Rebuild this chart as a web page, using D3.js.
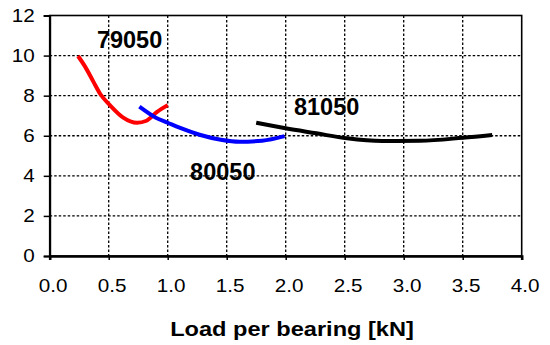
<!DOCTYPE html>
<html>
<head>
<meta charset="utf-8">
<script src="https://cdn.jsdelivr.net/npm/d3@7"></script>
<style>
  body { margin: 0; background: #fff; }
  svg { display: block; font-family: "Liberation Sans", Arial, sans-serif; }
</style>
</head>
<body>
<svg id="chart" width="550" height="345"></svg>
<script>
// bearing series
const names = ['79050', '80050', '81050'];
const colors = ['#ff0000', '#0000ff', '#000000'];

const load79050 = [0.24, 0.30, 0.37, 0.43, 0.51, 0.62, 0.74, 0.82, 0.91, 1.0];
const val79050  = [9.98, 9.45, 8.70, 8.07, 7.53, 6.92, 6.65, 6.75, 7.19, 7.53];

const load80050 = [0.76, 0.90, 1.0, 1.1, 1.27, 1.45, 1.61, 1.8, 1.99];
const val80050  = [7.45, 6.90, 6.65, 6.4, 6.05, 5.80, 5.70, 5.75, 5.98];

const load81050 = [1.75, 2.0, 2.26, 2.52, 2.82, 3.14, 3.5, 3.75];
const val81050  = [6.65, 6.37, 6.12, 5.87, 5.74, 5.75, 5.9, 6.04];

// where each series name sits, in data units
const labelX = [0.4, 1.19, 2.07];
const labelY = [10.4, 3.8, 7.05];

const xTicks = [0, 0.5, 1, 1.5, 2, 2.5, 3, 3.5, 4];
const yTicks = [0, 2, 4, 6, 8, 10, 12];
const xTitle = 'Load per bearing [kN]';

const margin = { left: 49.7, top: 15.5, right: 28.3, bottom: 89 };
const svg = d3.select('#chart');
const width = 550 - margin.left - margin.right;
const height = 345 - margin.top - margin.bottom;

const x = d3.scaleLinear().domain([0, 4]).range([0, width]);
const y = d3.scaleLinear().domain([0, 12]).range([height, 0]);

const g = svg.append('g').attr('transform', 'translate(' + [margin.left, margin.top] + ')');

// dotted grid
g.append('g').selectAll('line.gx')
  .data(xTicks.slice(1, -1))
  .enter().append('line')
  .attr('x1', d => x(d)).attr('x2', d => x(d))
  .attr('y1', 0).attr('y2', height)
  .attr('stroke', '#000').attr('stroke-width', 1.3).attr('stroke-dasharray', '2.5,2');
g.append('g').selectAll('line.gy')
  .data(yTicks.slice(1, -1))
  .enter().append('line')
  .attr('x1', 0).attr('x2', width)
  .attr('y1', d => y(d)).attr('y2', d => y(d))
  .attr('stroke', '#000').attr('stroke-width', 1.3).attr('stroke-dasharray', '2.5,2');

// plot frame
g.append('rect')
  .attr('x', 0).attr('y', 0).attr('width', width).attr('height', height)
  .attr('fill', 'none').attr('stroke', '#000').attr('stroke-width', 1.6);

// axes
const xAxis = g.append('g')
  .attr('transform', 'translate(0,' + height + ')')
  .call(d3.axisBottom(x).tickValues(xTicks).tickFormat(d3.format('.1f')).tickSize(4).tickPadding(20));
const yAxis = g.append('g')
  .call(d3.axisLeft(y).tickValues(yTicks).tickSize(6).tickPadding(8));

[xAxis, yAxis].forEach(ax => {
  ax.select('.domain').attr('stroke', '#000').attr('stroke-width', 2);
  ax.selectAll('.tick line').attr('stroke', '#000').attr('stroke-width', 1.5);
  ax.selectAll('.tick text')
    .attr('font-size', 17.5)
    .attr('font-family', '"Liberation Sans", Arial, sans-serif')
    .attr('fill', '#000');
});
xAxis.select('.domain').attr('stroke-width', 2.6);
xAxis.selectAll('.tick text').attr('transform', 'translate(3,0) scale(1.18,1)');
yAxis.selectAll('.tick text').attr('transform', 'scale(1.18,1)').attr('x', -12.7);

// curves
const series = [
  d3.zip(load79050, val79050),
  d3.zip(load80050, val80050),
  d3.zip(load81050, val81050)
];
const line = d3.line()
  .x(d => x(d[0]))
  .y(d => y(d[1]))
  .curve(d3.curveMonotoneX);

g.selectAll('path.series')
  .data(series)
  .enter().append('path')
  .attr('class', 'series')
  .attr('d', line)
  .attr('fill', 'none')
  .attr('stroke', (d, i) => colors[i])
  .attr('stroke-width', 4)
  .attr('stroke-linejoin', 'round');

// series names
g.selectAll('text.name')
  .data(names)
  .enter().append('text')
  .attr('class', 'name')
  .attr('x', (d, i) => x(labelX[i]))
  .attr('y', (d, i) => y(labelY[i]))
  .attr('font-size', 23.5)
  .attr('font-weight', 'bold')
  .attr('fill', '#000')
  .text(d => d);

// axis title
svg.append('text')
  .attr('transform', 'translate(292,336) scale(1.18,1)')
  .attr('text-anchor', 'middle')
  .attr('font-size', 20)
  .attr('font-weight', 'bold')
  .attr('fill', '#000')
  .text(xTitle);
</script>
</body>
</html>
